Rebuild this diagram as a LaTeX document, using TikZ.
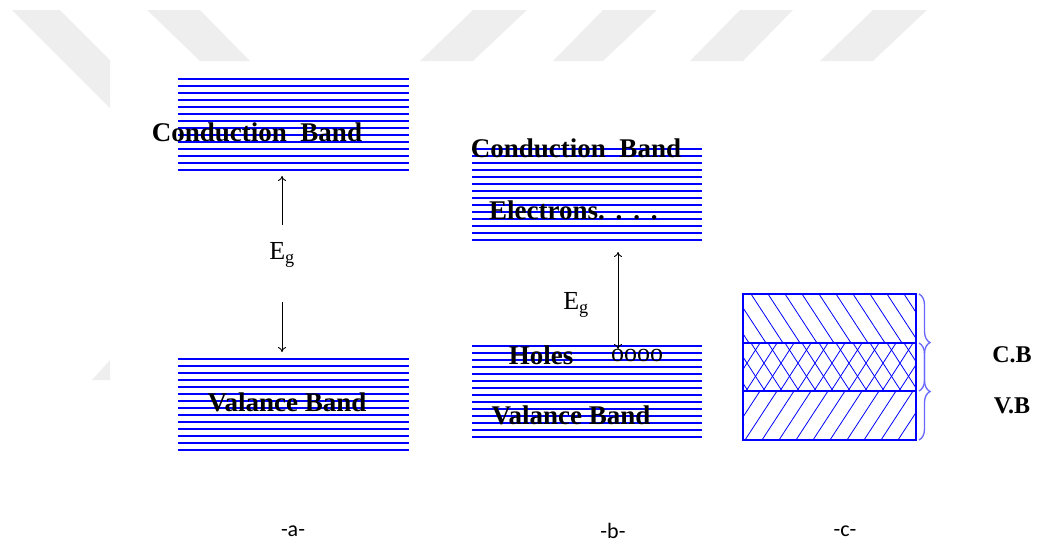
\documentclass[tikz,border=0pt]{standalone}
\usepackage{fontspec}
\setmainfont{Liberation Serif}
\newfontfamily\capfont{Carlito}
\usetikzlibrary{decorations.pathreplacing,arrows.meta}
\definecolor{wmark}{HTML}{EEEEEE}

\tikzset{
  band/.style={blue, line width=1.7pt},
  hatch/.style={blue, line width=0.8pt},
  bandtext/.style={font=\fontsize{27}{30}\selectfont\bfseries, inner sep=0pt},
  gaptext/.style={font=\fontsize{26}{30}\selectfont, inner sep=0pt},
  captext/.style={font=\capfont\fontsize{22}{26}\selectfont, inner sep=0pt},
  gaparrow/.style={-{To[length=5pt,width=8pt]}, black, line width=0.9pt},
  bandbrace/.style={decorate, decoration={brace, amplitude=11pt}, blue!60, line width=1.3pt}
}

\begin{document}
\begin{tikzpicture}[x=1pt, y=-1pt]
    \useasboundingbox (0,0) rectangle (1040,544);
    \fill[wmark] (12,10) -- (60,10) -- (110,60) -- (110,108) -- cycle;
    \fill[wmark] (147,10) -- (200,10) -- (250,61) -- (200,61) -- cycle;
    \fill[wmark] (473,10) -- (527,10) -- (473,61) -- (420,61) -- cycle;
    \fill[wmark] (603,10) -- (657,10) -- (603,61) -- (553,61) -- cycle;
    \fill[wmark] (740,10) -- (793,10) -- (743,61) -- (690,61) -- cycle;
    \fill[wmark] (873,10) -- (927,10) -- (873,61) -- (820,61) -- cycle;
    \fill[wmark] (92,380) -- (110,380) -- (110,360) -- cycle;

    \foreach \i in {0,...,13} {
        \draw[band] (178,79+7*\i) -- (409,79+7*\i);
        \draw[band] (178,359+7*\i) -- (409,359+7*\i);
        \draw[band] (472,149+7*\i) -- (702,149+7*\i);
        \draw[band] (472,346+7*\i) -- (702,346+7*\i);
    }

    \node[bandtext] (cba) at (257,132) {Conduction~~Band};
    \node[bandtext] (vba) at (287,402) {Valance Band};
    \node[gaptext] (ega) at (282,255) {E\textsubscript{g}};
    \coordinate (aupfrom) at (282,225);
    \coordinate (aupto) at (282,176);
    \coordinate (adnfrom) at (282,302);
    \coordinate (adnto) at (282,352);
    \draw[gaparrow] (aupfrom) -- (aupto);
    \draw[gaparrow] (adnfrom) -- (adnto);

    \node[bandtext] (cbb) at (576,148) {Conduction~~Band};
    \node[bandtext, anchor=west] (elb) at (489,210) {Electrons.\hspace{.4em}.\hspace{.4em}.\hspace{.4em}.};
    \node[bandtext] (hob) at (541,355) {Holes};
    \node[gaptext] (oob) at (637,355) {oooo};
    \node[bandtext] (vbb) at (571,415) {Valance Band};
    \node[gaptext] (egb) at (576,305) {E\textsubscript{g}};
    \coordinate (btop) at (618,252);
    \coordinate (bbot) at (618,349);
    \draw[gaparrow, {To[length=5pt,width=8pt]}-{To[length=5pt,width=8pt]}] (bbot) -- (btop);

    \begin{scope}
        \clip (743,294) rectangle (916,343);
        \foreach \x in {0,...,14} \draw[hatch] (700+17*\x,294) -- ++(32,49);
    \end{scope}
    \begin{scope}
        \clip (743,343) rectangle (916,391);
        \foreach \x in {0,...,14} {
            \draw[hatch] (700+17*\x,343) -- ++(31,48);
            \draw[hatch] (743+17*\x,343) -- ++(-31,48);
        }
    \end{scope}
    \begin{scope}
        \clip (743,391) rectangle (916,440);
        \foreach \x in {0,...,14} \draw[hatch] (743+17*\x,391) -- ++(-32,49);
    \end{scope}
    \draw[blue, line width=1.3pt] (743,294) rectangle (916,440);
    \draw[blue, line width=1.3pt] (743,343) -- (916,343);
    \draw[blue, line width=1.3pt] (743,391) -- (916,391);

    \coordinate (cbtop) at (919,294);
    \coordinate (cbbot) at (919,391);
    \coordinate (vbtop) at (919,343);
    \coordinate (vbbot) at (919,440);
    \draw[bandbrace] (cbtop) -- (cbbot);
    \draw[bandbrace] (vbtop) -- (vbbot);
    \node[bandtext, font=\fontsize{24}{28}\selectfont\bfseries] (cbl) at (1012,355) {C.B};
    \node[bandtext, font=\fontsize{24}{28}\selectfont\bfseries] (vbl) at (1012,406) {V.B};

    \node[captext] (la) at (293,531) {-a-};
    \node[captext] (lb) at (613,531) {-b-};
    \node[captext] (lc) at (845,531) {-c-};
\end{tikzpicture}
\end{document}
